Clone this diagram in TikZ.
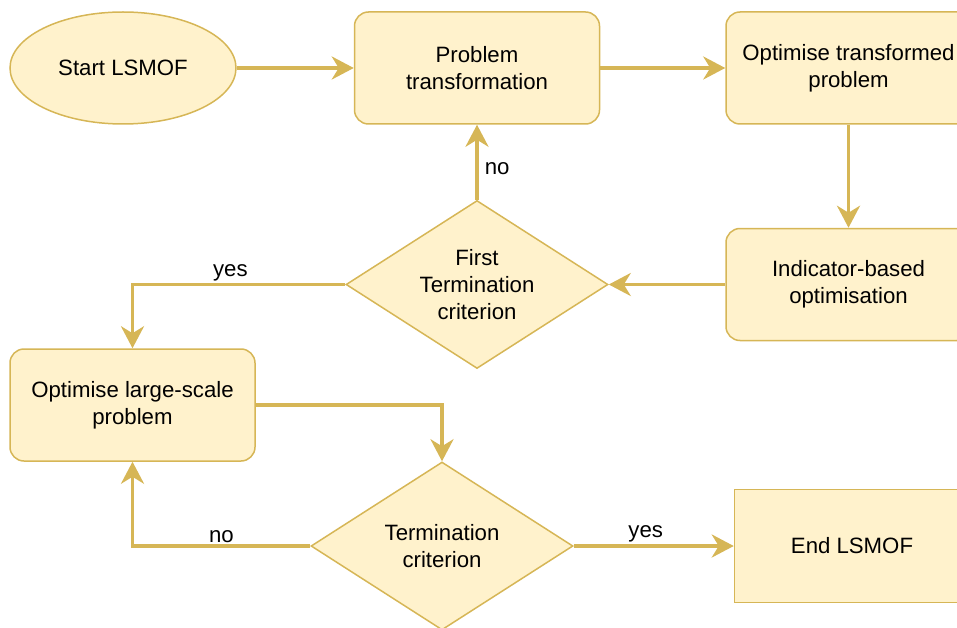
\documentclass[tikz,border=0pt]{standalone}
\usepackage{fontspec}
\setmainfont{Liberation Sans}
\usepackage{tikz}
\usetikzlibrary{shapes.geometric, arrows.meta, positioning, calc}

\definecolor{lsfill}{HTML}{FFF2CC}
\definecolor{lsline}{HTML}{D6B656}

\begin{document}
\begin{tikzpicture}[
    x=1pt, y=-1pt,
    txt/.style={font=\fontsize{22.2}{27}\selectfont},
    startstop/.style={ellipse, draw=lsline, fill=lsfill, line width=1.5pt, minimum width=226pt, minimum height=112pt, text centered, txt},
    process/.style={rectangle, rounded corners=14pt, draw=lsline, fill=lsfill, line width=1.5pt, minimum width=245pt, minimum height=112pt, align=center, txt},
    decision/.style={diamond, draw=lsline, fill=lsfill, line width=1.5pt, aspect=1.56, minimum width=262pt, minimum height=168pt, inner sep=0pt, align=center, txt},
    endbox/.style={rectangle, draw=lsline, fill=lsfill, line width=1.5pt, minimum width=235pt, minimum height=113pt, align=center, txt},
    arr/.style={-{Stealth[length=22pt, width=23pt, inset=7pt]}, line width=3.5pt, draw=lsline},
    lbl/.style={txt, inner sep=2pt}
]

\clip (0,0) rectangle (957,628);

\node[startstop] (start) at (123,68) {Start LSMOF};
\node[process, right=117pt of start] (prob) {Problem\\transformation};
\node[process, right=125pt of prob] (opt) {Optimise transformed\\problem};
\node[decision, below=75pt of prob] (first) {First\\Termination\\criterion};
\node[process] (ind) at (opt |- first) {Indicator-based\\optimisation};
\node[process] (large) at (132.5,405) {Optimise large-scale\\problem};
\node[decision] (term) at (442,546) {Termination\\criterion};
\node[endbox, right=160pt of term] (endn) {End LSMOF};

\draw[arr] (start) -- (prob);
\draw[arr] (prob) -- (opt);
\draw[arr] (opt) -- (ind);
\draw[arr] (ind) -- (first);
\draw[arr] (first.north) -- node[lbl, pos=0.41, right=4pt] {no} (prob.south);
\draw[arr] (first.west) -| node[lbl, pos=0.27, above] {yes} (large.north);
\draw[arr] (large.east) -| (term.north);
\draw[arr] (term.west) -| node[lbl, pos=0.25, above] {no} (large.south);
\draw[arr] (term.east) -- node[lbl, pos=0.45, above] {yes} (endn.west);

\end{tikzpicture}
\end{document}
